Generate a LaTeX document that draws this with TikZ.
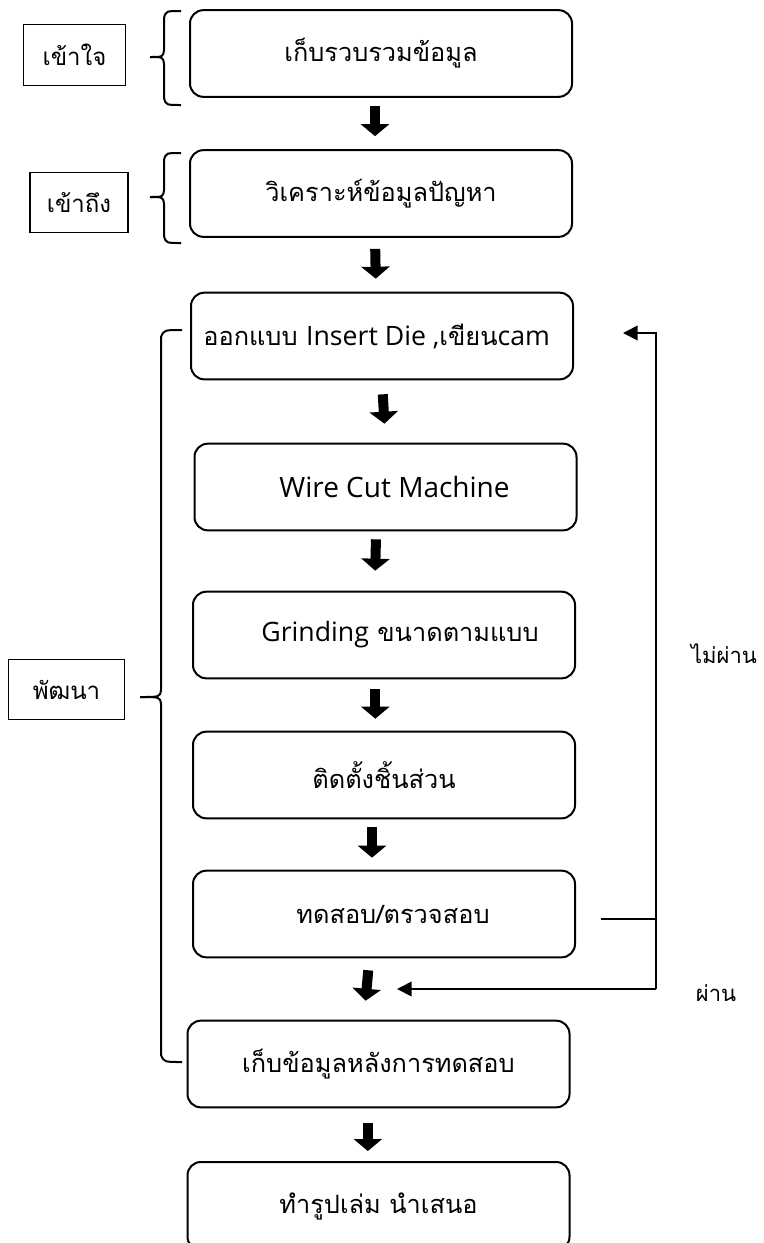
\documentclass[tikz,border=0pt]{standalone}
\usepackage{fontspec}
\setmainfont[Script=Thai]{Loma}
\newfontfamily\latn{Open Sans}
\usetikzlibrary{arrows.meta}
\begin{document}
\begin{tikzpicture}[x=0.75pt,y=-0.75pt,
  stepbox/.style={draw, line width=1.5pt, rounded corners=10pt, minimum width=286.5pt, minimum height=65pt, inner sep=0pt, font=\fontsize{19}{23}\selectfont},
  tagbox/.style={draw, line width=0.8pt, inner sep=0pt, minimum height=45.5pt, font=\fontsize{18}{22}\selectfont},
  blockarrow/.style={line width=7.5pt, -{Triangle[length=9pt,width=21pt]}},
  fbline/.style={line width=1.3pt},
  fbarrow/.style={line width=1.3pt, -{Triangle[length=11pt,width=11pt]}},
  bracestyle/.style={line width=1.5pt},
  note/.style={font=\fontsize{16.5}{20}\selectfont}
]
\useasboundingbox (0,0) rectangle (764,1243);
% main steps
\node[stepbox] (b1) at (381,53.5) {เก็บรวบรวมข้อมูล};
\node[stepbox] (b2) at (381,193.5) {วิเคราะห์ข้อมูลปัญหา};
\node[stepbox] (b3) at (382,336) {ออกแบบ {\latn\fontsize{20}{24}\selectfont Insert Die ,}เขียน{\latn\fontsize{20}{24}\selectfont cam}\hspace*{8pt}};
\node[stepbox] (b4) at (385.5,487) {\hspace*{13.5pt}{\latn\fontsize{21}{25}\selectfont Wire Cut Machine}};
\node[stepbox] (b5) at (384,635) {\hspace*{24pt}{\latn\fontsize{20}{24}\selectfont Grinding} ขนาดตามแบบ};
\node[stepbox] (b6) at (384,775) {ติดตั้งชิ้นส่วน};
\node[stepbox] (b7) at (384,914) {\hspace*{13.5pt}ทดสอบ/ตรวจสอบ};
\node[stepbox] (b8) at (378.5,1064) {เก็บข้อมูลหลังการทดสอบ};
\node[stepbox, minimum height=66pt] (b9) at (378.5,1206) {ทำรูปเล่ม นำเสนอ};
% left tags
\node[tagbox, minimum width=77pt] (t1) at (74.5,55) {เข้าใจ};
\node[tagbox, minimum width=73.5pt] (t2) at (79,202.5) {เข้าถึง};
\node[tagbox, minimum width=87.5pt] (t3) at (66.5,689.5) {พัฒนา};
% block arrows
\draw[blockarrow, shorten <=6pt, shorten >=9.75pt] ([xshift=-4.5pt]b1.south) -- ([xshift=-4.5pt]b2.north);
\draw[blockarrow, shorten <=8.25pt, shorten >=9.75pt] ([xshift=-4.5pt]b2.south) -- ([xshift=-4.5pt]b3.north);
\draw[blockarrow, shorten <=10.5pt, shorten >=14.25pt] ([xshift=0pt]b3.south) -- ([xshift=0pt]b4.north);
\draw[blockarrow, shorten <=6pt, shorten >=15pt] ([xshift=-7pt]b4.south) -- ([xshift=-7pt]b5.north);
\draw[blockarrow, shorten <=7.5pt, shorten >=9pt] ([xshift=-6.5pt]b5.south) -- ([xshift=-6.5pt]b6.north);
\draw[blockarrow, shorten <=6pt, shorten >=9pt] ([xshift=-9pt]b6.south) -- ([xshift=-9pt]b7.north);
\draw[blockarrow, shorten <=9pt, shorten >=14.25pt] ([xshift=-11pt]b7.south) -- ([xshift=-11pt]b8.north);
\draw[blockarrow, shorten <=11.25pt, shorten >=7.5pt] ([xshift=-8pt]b8.south) -- ([xshift=-8pt]b9.north);
% feedback loop
\coordinate (fbs) at (601,919);
\coordinate (fbr) at (656,919);
\coordinate (fbt) at (656,333);
\coordinate (fbb) at (656,989);
\coordinate (fbtip1) at (623,333);
\coordinate (fbtip2) at (397,989);
\draw[fbline] (fbs) -- (fbr);
\draw[fbarrow] (fbb) -- (fbt) -- (fbtip1);
\draw[fbarrow] (fbb) -- (fbtip2);
\node[note] (fail) at (724,654) {ไม่ผ่าน};
\node[note] (pass) at (716,993) {ผ่าน};
% braces
\draw[bracestyle] (181,11) .. controls (166,11) .. (164,18) -- (164,50) .. controls (163,57) .. (150,57);
\draw[bracestyle] (150,57) .. controls (163,57) .. (164,64) -- (164,98) .. controls (166,105) .. (181,105);
\draw[bracestyle] (181,153) .. controls (166,153) .. (164,160) -- (164,190) .. controls (163,197) .. (150,197);
\draw[bracestyle] (150,197) .. controls (163,197) .. (164,204) -- (164,236) .. controls (166,243) .. (181,243);
\draw[bracestyle] (182,330) .. controls (164,330) .. (161,337) -- (161,690) .. controls (160,697) .. (140,697);
\draw[bracestyle] (140,697) .. controls (160,697) .. (161,704) -- (161,1055) .. controls (164,1062) .. (182,1062);
\end{tikzpicture}
\end{document}
